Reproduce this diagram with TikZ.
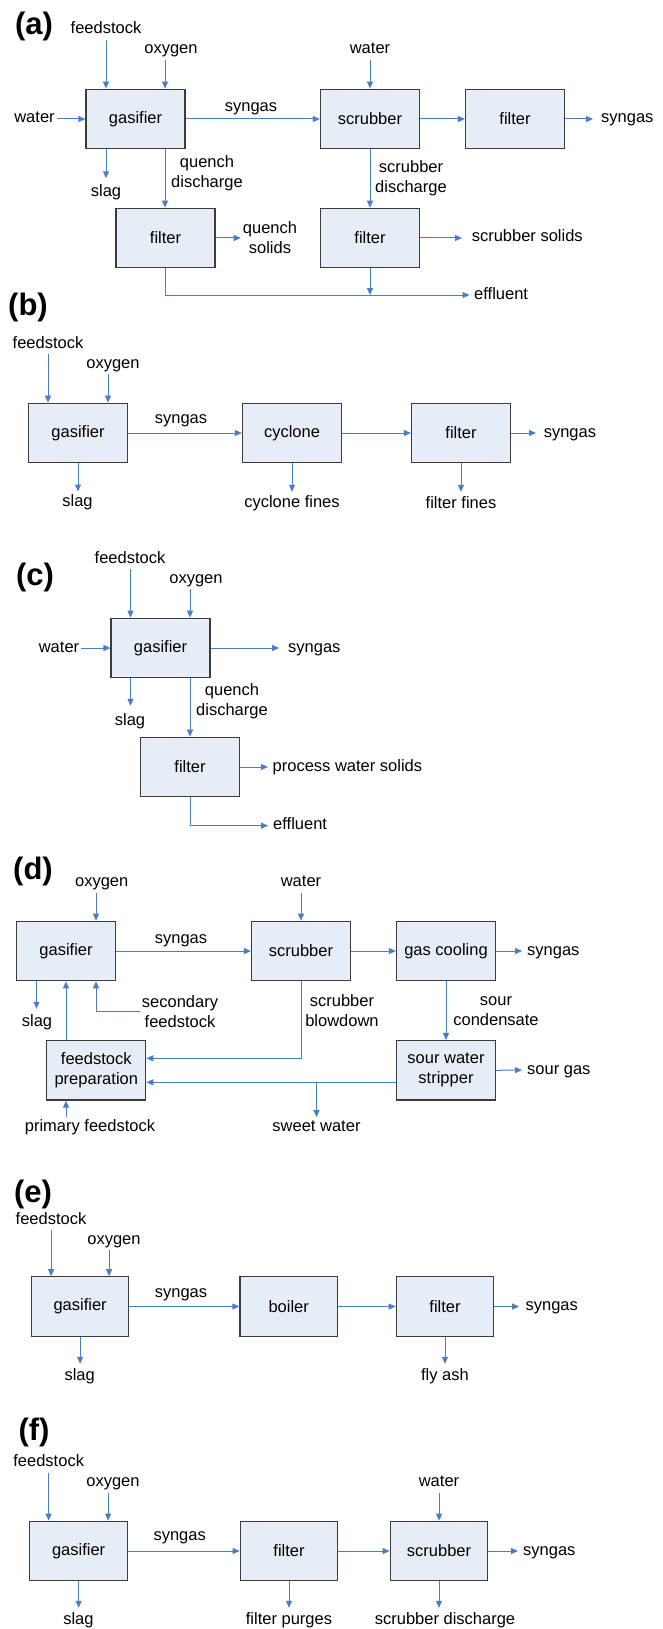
\documentclass[tikz,border=0pt]{standalone}
\usepackage{fontspec}
\setmainfont{Liberation Sans}
\usetikzlibrary{arrows.meta,calc}
\definecolor{flow}{RGB}{74,126,196}
\definecolor{boxfill}{RGB}{231,237,246}
\definecolor{boxline}{RGB}{60,60,60}
\newcommand\lblfont{\fontsize{16.5}{20}\selectfont}
\newcommand\panelfont{\bfseries\fontsize{31}{36}\selectfont}
\begin{document}
\begin{tikzpicture}[x=1pt,y=-1pt,
 box/.style={draw=boxline, fill=boxfill, line width=1.2pt, minimum width=99pt, minimum height=59.5pt, inner sep=0pt, font=\lblfont, align=center},
 boxn/.style={box, minimum width=97.5pt},
 lab/.style={font=\lblfont, inner xsep=2pt, inner ysep=2.5pt, text height=11.5pt, text depth=3.5pt},
 lab2/.style={font=\lblfont, inner xsep=2pt, inner ysep=2.5pt, align=center},
 pl/.style={font=\panelfont, inner sep=0pt},
 arr/.style={draw=flow, line width=1pt, -{Triangle[length=7pt,width=6pt]}}]
\fill[white] (0,0) rectangle (662,1629);
\useasboundingbox (0,0) rectangle (662,1629);

% ---------------- (a)
\node[pl] (pa) at (34,26) {(a)};
\node[box] (gasA) at (135.5,119) {gasifier};
\node[box] (scrA) at (370,119) {scrubber};
\node[box] (filA) at (515,119) {filter};
\node[box] (fqA) at (165.5,238) {filter};
\node[box] (fsA) at (370,238) {filter};
\coordinate (gAn1) at ([xshift=-29.5pt]gasA.north);
\coordinate (gAn2) at ([xshift=29.5pt]gasA.north);
\coordinate (gAs1) at ([xshift=-29.5pt]gasA.south);
\coordinate (gAs2) at ([xshift=29.5pt]gasA.south);
\node[lab] (fdA) at (106,30) {feedstock};
\node[lab] (oxA) at (171,50) {oxygen};
\node[lab] (wA) at (34.5,119) {water};
\node[lab] (syA) at (251,107.5) {syngas};
\node[lab] (wtA) at (370,50) {water};
\node[lab,anchor=west] (sgA) at (599,119) {syngas};
\node[lab] (slA) at (106,193) {slag};
\node[lab2] (qdA) at (207,173) {quench\\discharge};
\node[lab2] (qsA) at (270,238) {quench\\solids};
\node[lab2] (sdA) at (411,178.5) {scrubber\\discharge};
\node[lab,anchor=west] (ssA) at (469.6,238) {scrubber solids};
\node[lab,anchor=west] (efA) at (472,295) {effluent};
\draw[arr] (fdA.south -| gAn1) -- (gAn1);
\draw[arr] (oxA.south -| gAn2) -- (gAn2);
\draw[arr] (wA.east) -- (gasA.west);
\draw[arr] (gasA.east) -- (scrA.west);
\draw[arr] (wtA.south) -- (scrA.north);
\draw[arr] (scrA.east) -- (filA.west);
\draw[arr] (filA.east) -- ([xshift=-6pt]sgA.west);
\draw[arr, shorten >=4.5pt] (gAs1) -- (gAs1 |- slA.north);
\draw[arr] (gAs2) -- (gAs2 |- fqA.north);
\draw[arr] (fqA.east) -- (qsA.west);
\draw[arr] (scrA.south) -- (fsA.north);
\draw[arr] (fsA.east) -- ([xshift=-7.6pt]ssA.west);
\draw[arr] (fqA.south) |- ([xshift=-2.5pt]efA.west);
\draw[arr] (fsA.south) -- (fsA.south |- efA.west);

% ---------------- (b)
\node[pl] (pb) at (28,307) {(b)};
\node[box] (gasB) at (78,433) {gasifier};
\node[box] (cycB) at (292,433) {cyclone};
\node[box] (filB) at (461,433) {filter};
\coordinate (gBn1) at ([xshift=-30pt]gasB.north);
\coordinate (gBn2) at ([xshift=30pt]gasB.north);
\node[lab] (fdB) at (48,344) {feedstock};
\node[lab] (oxB) at (113,364) {oxygen};
\node[lab] (syB) at (181,419) {syngas};
\node[lab,anchor=west] (sgB) at (541.6,433) {syngas};
\node[lab] (slB) at (77.5,502.7) {slag};
\node[lab] (cfB) at (292,503) {cyclone fines};
\node[lab] (ffB) at (461,504) {filter fines};
\draw[arr] (fdB.south -| gBn1) -- (gBn1);
\draw[arr] (oxB.south -| gBn2) -- (gBn2);
\draw[arr] (gasB.east) -- (cycB.west);
\draw[arr] (cycB.east) -- (filB.west);
\draw[arr] (filB.east) -- ([xshift=-5.6pt]sgB.west);
\draw[arr, shorten >=1pt] (gasB.south) -- (gasB.south |- slB.north);
\draw[arr, shorten >=1pt] (cycB.south) -- (cfB.north);
\draw[arr, shorten >=2pt] (filB.south) -- (ffB.north);

% ---------------- (c)
\node[pl] (pc) at (35,577) {(c)};
\node[box] (gasC) at (160.5,648) {gasifier};
\node[box] (filC) at (190,767) {filter};
\coordinate (gCn1) at ([xshift=-30pt]gasC.north);
\coordinate (gCn2) at ([xshift=29.5pt]gasC.north);
\coordinate (gCs1) at ([xshift=-30pt]gasC.south);
\coordinate (gCs2) at ([xshift=29.5pt]gasC.south);
\node[lab] (fdC) at (130,559) {feedstock};
\node[lab] (oxC) at (196,579) {oxygen};
\node[lab] (wC) at (59,648) {water};
\node[lab,anchor=west] (sgC) at (286,648) {syngas};
\node[lab] (slC) at (130,721.7) {slag};
\node[lab2] (qdC) at (232,701.7) {quench\\discharge};
\node[lab,anchor=west] (pwC) at (270.5,767) {process water solids};
\node[lab,anchor=west] (efC) at (271,825.7) {effluent};
\draw[arr] (fdC.south -| gCn1) -- (gCn1);
\draw[arr] (oxC.south -| gCn2) -- (gCn2);
\draw[arr] (wC.east) -- (gasC.west);
\draw[arr] (gasC.east) -- ([xshift=-7pt]sgC.west);
\draw[arr, shorten >=5.7pt] (gCs1) -- (gCs1 |- slC.north);
\draw[arr] (gCs2) -- (gCs2 |- filC.north);
\draw[arr] (filC.east) -- ([xshift=-2.5pt]pwC.west);
\draw[arr] (filC.south) |- ([xshift=-3pt]efC.west);

% ---------------- (d)
\node[pl] (pd) at (33,871) {(d)};
\node[box] (gasD) at (66,951) {gasifier};
\node[box] (scrD) at (301,951) {scrubber};
\node[box] (gcD) at (446,951) {gas cooling};
\node[box] (fpD) at (96.3,1070.3) {feedstock\\preparation};
\node[box] (swD) at (446,1070.3) {sour water\\stripper};
\coordinate (gDn2) at ([xshift=30pt]gasD.north);
\coordinate (gDs1) at ([xshift=-29.5pt]gasD.south);
\coordinate (gDs2) at ([xshift=30pt]gasD.south);
\node[lab] (oxD) at (101.7,882.7) {oxygen};
\node[lab] (wD) at (301,882.7) {water};
\node[lab] (syD) at (181,939.7) {syngas};
\node[lab,anchor=west] (sgD) at (525,951) {syngas};
\node[lab] (slD) at (37,1022.7) {slag};
\node[lab2] (secD) at (180,1011.85) {secondary\\feedstock};
\node[lab2] (sbD) at (342,1010.7) {scrubber\\blowdown};
\node[lab2] (scD) at (496,1011) {sour\\condensate};
\node[lab,anchor=west] (sgsD) at (525,1070) {sour gas};
\node[lab] (swtD) at (316.5,1127.3) {sweet water};
\node[lab] (pfD) at (90,1127.3) {primary feedstock};
\draw[arr] (oxD.south -| gDn2) -- (gDn2);
\draw[arr] (wD.south) -- (scrD.north);
\draw[arr] (gasD.east) -- (scrD.west);
\draw[arr] (scrD.east) -- (gcD.west);
\draw[arr] (gcD.east) -- ([xshift=-3pt]sgD.west);
\draw[arr, shorten >=3.7pt] (gDs1) -- (gDs1 |- slD.north);
\draw[arr] (fpD.north -| gasD.south) -- (gasD.south);
\draw[arr] (secD.west) -| (gDs2);
\coordinate (fpE1) at ([yshift=12pt]fpD.east);
\draw[arr] (scrD.south) |- (fpE1);
\draw[arr] (gcD.south) -- (swD.north);
\draw[arr] (swD.east) -- ([xshift=-3pt]sgsD.west);
\coordinate (swW) at ([yshift=-12pt]swD.west);
\draw[arr] (swW) -- (swW -| fpD.east);
\draw[arr] (swW -| swtD.north) -- (swtD.north);
\draw[arr] (pfD.north -| gasD.south) -- (fpD.south -| gasD.south);

% ---------------- (e)
\node[pl] (pe) at (33,1194) {(e)};
\node[boxn] (gasE) at (80.1,1306.5) {gasifier};
\node[boxn] (boE) at (288.7,1306.5) {boiler};
\node[boxn] (filE) at (445,1306.5) {filter};
\coordinate (gEn1) at ([xshift=-29pt]gasE.north);
\coordinate (gEn2) at ([xshift=29pt]gasE.north);
\node[lab] (fdE) at (51,1220) {feedstock};
\node[lab] (oxE) at (114,1240) {oxygen};
\node[lab] (syE) at (181,1293) {syngas};
\node[lab,anchor=west] (sgE) at (523.4,1306.5) {syngas};
\node[lab] (slE) at (79.7,1376) {slag};
\node[lab] (faE) at (445,1376) {fly ash};
\draw[arr] (fdE.south -| gEn1) -- (gEn1);
\draw[arr] (oxE.south -| gEn2) -- (gEn2);
\draw[arr] (gasE.east) -- (boE.west);
\draw[arr] (boE.east) -- (filE.west);
\draw[arr] (filE.east) -- ([xshift=-4.4pt]sgE.west);
\draw[arr, shorten >=2pt] (gasE.south) -- (gasE.south |- slE.north);
\draw[arr, shorten >=2pt] (filE.south) -- (faE.north);

% ---------------- (f)
\node[pl] (pf) at (34,1432) {(f)};
\node[boxn] (gasF) at (78.6,1551) {gasifier};
\node[boxn] (fiF) at (289,1551) {filter};
\node[boxn] (scF) at (439,1551) {scrubber};
\coordinate (gFn1) at ([xshift=-30pt]gasF.north);
\coordinate (gFn2) at ([xshift=29.5pt]gasF.north);
\node[lab] (fdF) at (48.7,1462.7) {feedstock};
\node[lab] (oxF) at (113,1482.7) {oxygen};
\node[lab] (wF) at (439,1482.7) {water};
\node[lab] (syF) at (179.7,1536.7) {syngas};
\node[lab,anchor=west] (sgF) at (521,1551) {syngas};
\node[lab] (slF) at (78.4,1620) {slag};
\node[lab] (fpF) at (289,1620) {filter purges};
\node[lab] (sdF) at (445,1620) {scrubber discharge};
\draw[arr] (fdF.south -| gFn1) -- (gFn1);
\draw[arr] (oxF.south -| gFn2) -- (gFn2);
\draw[arr] (wF.south) -- (scF.north);
\draw[arr] (gasF.east) -- (fiF.west);
\draw[arr] (fiF.east) -- (scF.west);
\draw[arr] (scF.east) -- ([xshift=-3pt]sgF.west);
\draw[arr, shorten >=2pt] (gasF.south) -- (gasF.south |- slF.north);
\draw[arr, shorten >=2pt] (fiF.south) -- (fpF.north);
\draw[arr, shorten >=2pt] (scF.south) -- (scF.south |- sdF.north);
\end{tikzpicture}
\end{document}
